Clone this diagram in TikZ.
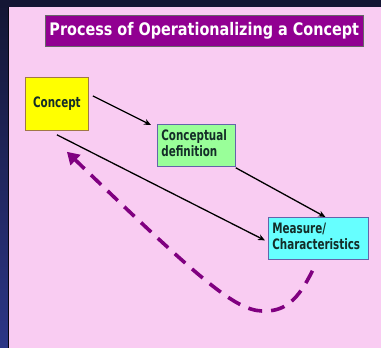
\documentclass[tikz,border=0pt]{standalone}
\usepackage{fontspec}
\usepackage{graphicx}
\newfontfamily\tfont{DejaVu Sans Condensed}[BoldFont={DejaVu Sans Condensed Bold}]
\usetikzlibrary{arrows.meta}
\definecolor{panel}{RGB}{249,204,242}
\definecolor{navy}{RGB}{20,22,52}
\definecolor{sideblue}{RGB}{44,54,135}
\definecolor{titlepurple}{RGB}{145,0,145}
\definecolor{dashpurple}{RGB}{128,0,128}
\definecolor{conceptyellow}{RGB}{255,255,0}
\definecolor{defgreen}{RGB}{153,255,153}
\definecolor{meascyan}{RGB}{102,255,255}
\definecolor{ctext}{RGB}{20,45,40}
\newcommand\tallt[1]{\scalebox{1}[1.25]{#1}}
\tikzset{
  box/.style={draw, line width=0.8pt, anchor=north west, inner sep=0pt, text=ctext, font=\tfont\bfseries\fontsize{11.5}{12.8}\selectfont},
  arr/.style={draw=black, line width=1.3pt, -{Stealth[length=7pt,width=6pt]}},
  back/.style={draw=dashpurple, line width=3.6pt, dash pattern=on 14pt off 9pt, -{Triangle[length=12pt,width=14pt]}}
}
\begin{document}
\begin{tikzpicture}[x=1pt,y=-1pt]
\useasboundingbox (0,0) rectangle (381,348);
\shade[top color=navy, bottom color=sideblue] (0,0) rectangle (381,348);
\fill[navy] (0,0) rectangle (381,8);
\fill[black!70!navy] (7.5,7) rectangle (9,348);
\fill[panel] (9,7) rectangle (381,348);
\node[fill=titlepurple, draw=black!60, line width=0.5pt, anchor=north west, minimum width=318pt, minimum height=31pt, inner sep=0pt, text=white, font=\tfont\bfseries\fontsize{16}{18}\selectfont] (title) at (45,15) {\scalebox{1}[1.08]{Process of Operationalizing a Concept}};
\node[box, draw={rgb,255:red,160;green,120;blue,70}, fill=conceptyellow, minimum width=63pt, minimum height=53pt] (c) at (25,77) {\tallt{Concept}};
\node[box, draw={rgb,255:red,100;green,100;blue,170}, fill=defgreen, minimum width=75pt, minimum height=42pt, align=left, text width=70pt, inner xsep=4pt] (cd) at (157,124) {\tallt{\begin{tabular}{@{}l@{}}Conceptual\\definition\end{tabular}}};
\node[box, draw={rgb,255:red,100;green,100;blue,170}, fill=meascyan, minimum width=96pt, minimum height=42pt, align=left, text width=92pt, inner xsep=4pt] (m) at (268,217) {\tallt{\begin{tabular}{@{}l@{}}Measure/\\Characteristics\end{tabular}}};
\draw[arr] ([xshift=4pt,yshift=8pt]c.east) -- ([xshift=-6pt,yshift=-1pt]cd.north west);
\draw[arr] ([yshift=-1pt]cd.south east) -- ([xshift=7pt]m.north);
\draw[arr] ([yshift=-4pt]c.south) -- ([xshift=-3pt,yshift=-2pt]m.west);
\draw[back] ([xshift=-6pt,yshift=-11pt]m.south) .. controls (298,300) and (285,312) .. (262,311) .. controls (235,310) and (200,280) .. ([xshift=10pt,yshift=-21pt]c.south);
\end{tikzpicture}
\end{document}
